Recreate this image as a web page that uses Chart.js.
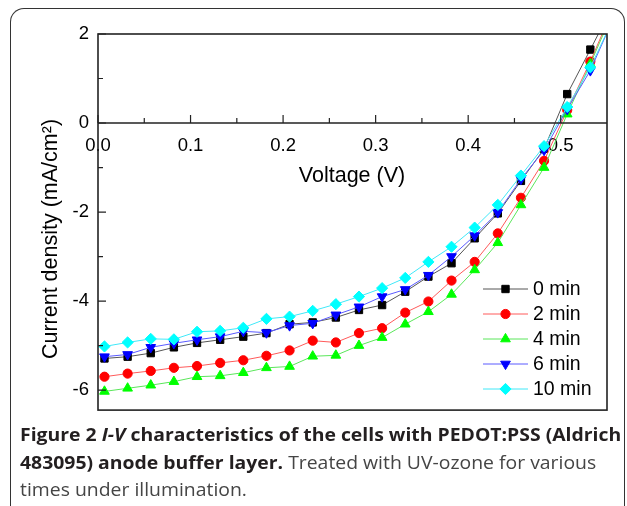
<!DOCTYPE html>
<html>
<head>
<meta charset="utf-8">
<script src="https://cdn.jsdelivr.net/npm/chart.js@4.4.1/dist/chart.umd.min.js"></script>
<style>
  html, body { margin: 0; padding: 0; background: #fff; width: 627px; height: 506px; overflow: hidden; }
  #frame { position: absolute; left: 10px; top: 8px; width: 613px; height: 520px;
           border: 1.5px solid #333; border-bottom: none; border-radius: 14px 14px 0 0; }
  #wrap { position: absolute; left: 0; top: 0; width: 627px; height: 440px; }
  #caption { position: absolute; left: 20px; top: 421px; font-family: "Open Sans", sans-serif;
             font-size: 18px; line-height: 27.5px; color: #454545; white-space: nowrap; }
  #caption div { transform-origin: left center; }
  #caption b { color: #231f20; }
</style>
</head>
<body>
<div id="frame"></div>
<div id="wrap"><canvas id="grafico" width="627" height="440"></canvas></div>
<div id="caption">
  <div><b>Figure 2 <i>I-V</i> characteristics of the cells with PEDOT:PSS (Aldrich</b></div>
  <div><b>483095) anode buffer layer.</b> Treated with UV-ozone for various</div>
  <div>times under illumination.</div>
</div>
<script>
// dados
const voltage = [0.007, 0.032, 0.057, 0.082, 0.107, 0.132, 0.157, 0.182, 0.207, 0.232, 0.257, 0.282,
                 0.307, 0.332, 0.357, 0.382, 0.407, 0.432, 0.457, 0.482, 0.507, 0.532, 0.557];
const j0min  = [-5.29, -5.25, -5.17, -5.04, -4.94, -4.87, -4.80, -4.72, -4.52, -4.48, -4.37, -4.20,
                -4.09, -3.79, -3.45, -3.15, -2.59, -2.03, -1.30, -0.58, 0.65, 1.65, 2.66];
const j2min  = [-5.70, -5.63, -5.57, -5.50, -5.46, -5.39, -5.33, -5.23, -5.11, -4.89, -4.93, -4.72,
                -4.61, -4.26, -4.01, -3.54, -3.12, -2.48, -1.68, -0.85, 0.29, 1.38, 2.59];
const j4min  = [-6.03, -5.96, -5.89, -5.81, -5.70, -5.68, -5.61, -5.50, -5.47, -5.24, -5.22, -5.00,
                -4.82, -4.52, -4.24, -3.85, -3.30, -2.69, -1.84, -1.00, 0.20, 1.33, 2.52];
const j6min  = [-5.25, -5.20, -5.04, -4.95, -4.87, -4.80, -4.68, -4.71, -4.55, -4.50, -4.31, -4.13,
                -3.90, -3.74, -3.42, -3.00, -2.53, -2.01, -1.26, -0.61, 0.31, 1.18, 2.36];
const j10min = [-5.02, -4.93, -4.85, -4.86, -4.69, -4.67, -4.60, -4.40, -4.35, -4.22, -4.07, -3.90,
                -3.71, -3.48, -3.12, -2.78, -2.35, -1.84, -1.18, -0.52, 0.36, 1.25, 2.35];
const seriesNames = ['0 min', '2 min', '4 min', '6 min', '10 min'];
const xTicks = [0, 0.1, 0.2, 0.3, 0.4, 0.5];
const xMinorTicks = [0.05, 0.15, 0.25, 0.35, 0.45];
const yTicks = [2, 0, -2, -4, -6];
const yMinorTicks = [1, -1, -3, -5];

const series = [j0min, j2min, j4min, j6min, j10min];
const markerColors = ['#000000', '#ff0000', '#00ff00', '#0000ff', '#00ffff'];
const lineColors = ['#555555', '#ff5a5a', '#5ae65a', '#5a5aff', '#40e8f8'];
const pointStyles = ['rect', 'circle', 'triangle', 'triangle', 'rectRot'];
const rotations = [0, 0, 0, 180, 0];
const radii = [5.2, 4.6, 5.6, 5.6, 5.6];

const fonte = 'Liberation Sans, Arial, sans-serif';
// onde a area do grafico deve ficar (px)
const areaAlvo = { top: 34, bottom: 410, right: 607 };

let datasets = [];
for (let k = 0; k < series.length; k++) {
    let pontos = [];
    for (let i = 0; i < voltage.length; i++) {
        pontos.push({ x: voltage[i], y: series[k][i] });
    }
    datasets.push({
        label: seriesNames[k],
        data: pontos,
        borderColor: lineColors[k],
        borderWidth: 1,
        pointStyle: pointStyles[k],
        rotation: rotations[k],
        pointRadius: radii[k],
        pointBackgroundColor: markerColors[k],
        pointBorderColor: markerColors[k],
        pointBorderWidth: 1,
        tension: 0,
        order: series.length - k
    });
}

// moldura, ticks internos, titulos e legenda
const extras = {
    id: 'extras',
    afterDraw(chart) {
        const ctx = chart.ctx;
        const x = chart.scales.x;
        const y = chart.scales.y;
        const esq = x.getPixelForValue(x.min);
        const dir = x.getPixelForValue(x.max);
        const topo = y.getPixelForValue(y.max);
        const base = y.getPixelForValue(y.min);
        const y0 = y.getPixelForValue(0);
        ctx.save();
        ctx.strokeStyle = '#222';
        ctx.lineWidth = 1.6;
        ctx.strokeRect(esq, topo, dir - esq, base - topo);
        ctx.beginPath();
        ctx.moveTo(esq, y0);
        ctx.lineTo(dir, y0);
        ctx.stroke();

        ctx.lineWidth = 1.2;
        ctx.beginPath();
        xTicks.forEach(function (v) {
            const px = x.getPixelForValue(v);
            ctx.moveTo(px, y0); ctx.lineTo(px, y0 - 8);
        });
        xMinorTicks.forEach(function (v) {
            const px = x.getPixelForValue(v);
            ctx.moveTo(px, y0); ctx.lineTo(px, y0 - 5);
        });
        yTicks.forEach(function (v) {
            const py = y.getPixelForValue(v);
            ctx.moveTo(esq, py); ctx.lineTo(esq + 8, py);
        });
        yMinorTicks.forEach(function (v) {
            const py = y.getPixelForValue(v);
            ctx.moveTo(esq, py); ctx.lineTo(esq + 5, py);
        });
        ctx.stroke();

        // titulos dos eixos
        ctx.fillStyle = '#000';
        ctx.font = '21.5px ' + fonte;
        ctx.textAlign = 'center';
        ctx.textBaseline = 'middle';
        ctx.fillText('Voltage (V)', 352, 176);
        ctx.save();
        ctx.translate(51, 239);
        ctx.rotate(-Math.PI / 2);
        ctx.fillText('Current density (mA/cm\u00B2)', 0, 0);
        ctx.restore();

        // legenda
        ctx.font = '19.5px ' + fonte;
        ctx.textAlign = 'left';
        for (let k = 0; k < chart.data.datasets.length; k++) {
            const ds = chart.data.datasets[k];
            const ly = 289 + k * 25;
            ctx.strokeStyle = ds.borderColor;
            ctx.lineWidth = 1;
            ctx.beginPath();
            ctx.moveTo(483, ly); ctx.lineTo(528, ly);
            ctx.stroke();
            ctx.fillStyle = ds.pointBackgroundColor;
            ctx.strokeStyle = ds.pointBorderColor;
            Chart.helpers.drawPoint(ctx, {
                pointStyle: ds.pointStyle, rotation: ds.rotation,
                radius: ds.pointRadius, borderWidth: 1
            }, 505.5, ly);
            ctx.fillStyle = '#000';
            ctx.fillText(ds.label, 533, ly + 1);
        }
        ctx.restore();
    }
};

const config = {
    type: 'line',
    data: { datasets: datasets },
    options: {
        responsive: false,
        animation: false,
        devicePixelRatio: 1,
        layout: { padding: { left: 0, top: 34, right: 20, bottom: 20 } },
        plugins: { legend: { display: false }, tooltip: { enabled: false } },
        scales: {
            x: {
                type: 'linear',
                min: 0,
                max: 0.55,
                position: { y: 0 },
                afterFit: function (scale) { scale.height = 0; },
                afterBuildTicks: function (scale) { scale.ticks = xTicks.map(function (v) { return { value: v }; }); },
                grid: { display: false, drawTicks: false },
                border: { display: false },
                ticks: {
                    padding: 12,
                    color: '#000',
                    font: { family: fonte, size: 18.5 },
                    callback: function (v) { return v.toFixed(1); }
                }
            },
            y: {
                min: -6.45,
                max: 2,
                afterFit: function (scale) { scale.width = 98; },
                afterBuildTicks: function (scale) { scale.ticks = yTicks.map(function (v) { return { value: v }; }); },
                grid: { display: false, drawTicks: false },
                border: { display: false },
                ticks: {
                    padding: 9,
                    color: '#000',
                    font: { family: fonte, size: 18.5 },
                    callback: function (v) { return String(v); }
                }
            }
        }
    },
    plugins: [extras]
};

let myChart = new Chart(document.getElementById('grafico'), config);

// corrige o padding para a area do grafico cair no lugar certo
let pad = config.options.layout.padding;
let area = myChart.chartArea;
pad.top += areaAlvo.top - area.top;
pad.bottom += area.bottom - areaAlvo.bottom;
pad.right += area.right - areaAlvo.right;
myChart.options.layout.padding = pad;
myChart.update();

// ajusta a largura da legenda da figura
const linhas = document.querySelectorAll('#caption div');
const escala = 601 / linhas[0].scrollWidth;
linhas.forEach(function (l) { l.style.transform = 'scaleX(' + escala + ')'; });
</script>
</body>
</html>
